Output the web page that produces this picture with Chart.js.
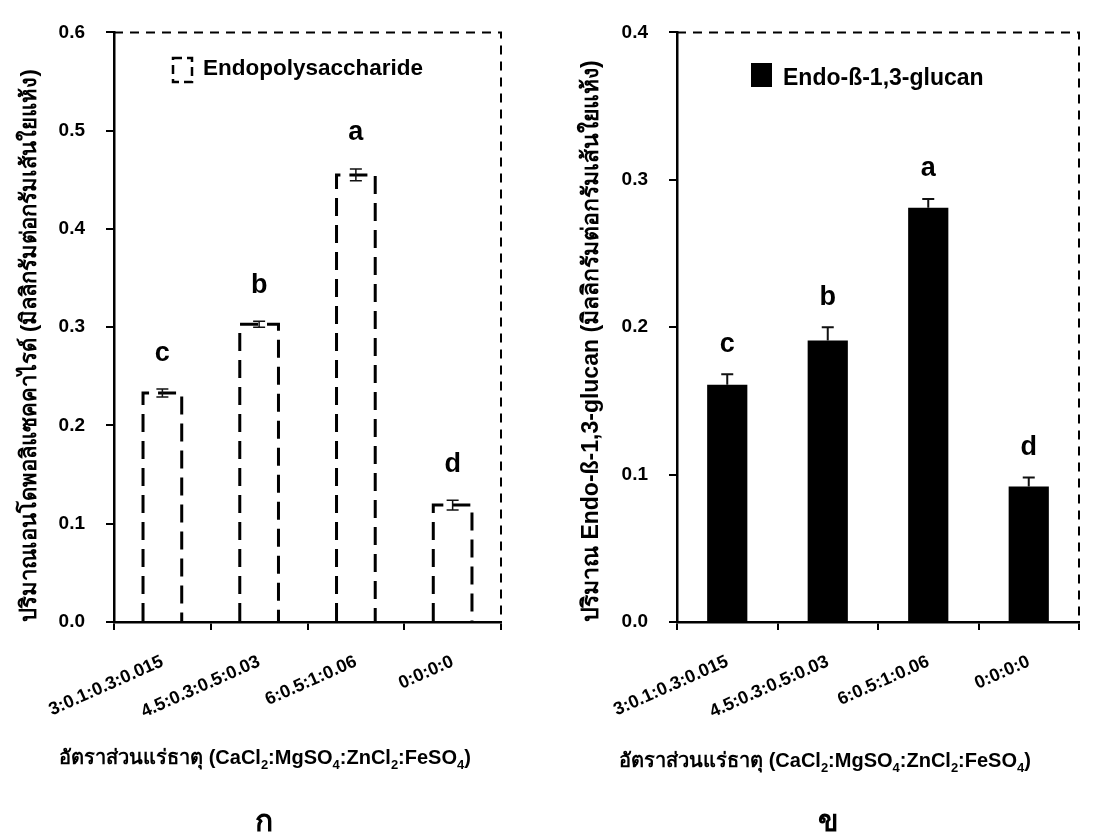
<!DOCTYPE HTML>
<html>
<head>
   <title>Endopolysaccharide / Endo-glucan</title>
   <meta charset="utf-8">
   <script src="https://cdn.jsdelivr.net/npm/chart.js"></script>
   <style>
     body { margin: 0; background: #fff; }
     .box { position: absolute; top: 0; height: 837px; }
   </style>
</head>
<body>
  <div class="box" style="left:0; width:548px;"><canvas id="chartA"></canvas></div>
  <div class="box" style="left:548px; width:549px;"><canvas id="chartB"></canvas></div>

<script type="text/javascript">
  // ratios CaCl2:MgSO4:ZnCl2:FeSO4
  var categories = ["3:0.1:0.3:0.015", "4.5:0.3:0.5:0.03", "6:0.5:1:0.06", "0:0:0:0"];

  var polyValues  = [0.233, 0.303, 0.455, 0.119];
  var polyErrors  = [0.004, 0.003, 0.006, 0.005];
  var polyLetters = ["c", "b", "a", "d"];

  var glucanValues  = [0.161, 0.191, 0.281, 0.092];
  var glucanErrors  = [0.007, 0.009, 0.006, 0.006];
  var glucanLetters = ["c", "b", "a", "d"];

  var FONT = '"Liberation Sans", Arial, "Noto Sans", sans-serif';
  Chart.defaults.font.family = FONT;
  Chart.defaults.font.weight = 'bold';
  Chart.defaults.color = '#000';

  // dashed top and right border of the plot area
  var frameDash = {
    id: 'frameDash',
    afterDraw: function (chart) {
      var a = chart.chartArea, ctx = chart.ctx;
      ctx.save();
      ctx.strokeStyle = '#000';
      ctx.lineWidth = 2;
      ctx.setLineDash([9, 7]);
      ctx.beginPath();
      ctx.moveTo(a.left, a.top);
      ctx.lineTo(a.right, a.top);
      ctx.lineTo(a.right, a.bottom);
      ctx.stroke();
      ctx.restore();
    }
  };

  // outlines, error bars and significance letters
  var barDecor = {
    id: 'barDecor',
    afterDatasetsDraw: function (chart, args, opts) {
      var ctx = chart.ctx;
      var yScale = chart.scales.y;
      var meta = chart.getDatasetMeta(0);
      var data = chart.data.datasets[0].data;
      ctx.save();
      meta.data.forEach(function (bar, i) {
        var half = bar.width / 2;
        if (opts.dashed) {
          ctx.strokeStyle = '#000';
          ctx.lineWidth = 3;
          ctx.setLineDash([18, 9]);
          ctx.beginPath();
          ctx.moveTo(bar.x - half, bar.base);
          ctx.lineTo(bar.x - half, bar.y);
          ctx.lineTo(bar.x + half, bar.y);
          ctx.lineTo(bar.x + half, bar.base);
          ctx.stroke();
          ctx.setLineDash([]);
        }
        var yHi = yScale.getPixelForValue(data[i] + opts.errors[i]);
        var yLo = opts.twoSided ? yScale.getPixelForValue(data[i] - opts.errors[i]) : bar.y;
        ctx.strokeStyle = '#111';
        ctx.lineWidth = opts.errWidth;
        ctx.beginPath();
        ctx.moveTo(bar.x, yLo);
        ctx.lineTo(bar.x, yHi);
        ctx.moveTo(bar.x - 6, yHi);
        ctx.lineTo(bar.x + 6, yHi);
        if (opts.twoSided) {
          ctx.moveTo(bar.x - 6, yLo);
          ctx.lineTo(bar.x + 6, yLo);
        }
        ctx.stroke();
        ctx.fillStyle = '#000';
        ctx.font = 'bold 27px ' + FONT;
        ctx.textAlign = 'center';
        ctx.textBaseline = 'middle';
        ctx.fillText(opts.letters[i], bar.x, yHi - opts.letterGap);
      });
      ctx.restore();
    }
  };

  // legend, x caption with subscripts and panel label
  var captions = {
    id: 'captions',
    afterDraw: function (chart, args, opts) {
      var ctx = chart.ctx;
      ctx.save();
      ctx.fillStyle = '#000';
      ctx.strokeStyle = '#000';
      // legend swatch
      var s = opts.swatch;
      if (opts.dashed) {
        ctx.lineWidth = 2.5;
        ctx.setLineDash([9, 5]);
        ctx.strokeRect(s[0], s[1], s[2], s[3]);
        ctx.setLineDash([]);
      } else {
        ctx.fillRect(s[0], s[1], s[2], s[3]);
      }
      ctx.font = 'bold ' + opts.legendSize + 'px ' + FONT;
      ctx.textAlign = 'left';
      ctx.textBaseline = 'middle';
      ctx.fillText(opts.legendText, s[0] + s[2] + 11, s[1] + s[3] / 2 + opts.legendShift);

      // x caption
      var parts = [["อัตราส่วนแร่ธาตุ (CaCl", 0], ["2", 1], [":MgSO", 0], ["4", 1],
                   [":ZnCl", 0], ["2", 1], [":FeSO", 0], ["4", 1], [")", 0]];
      var big = 'bold 20px ' + FONT, small = 'bold 13px ' + FONT;
      var total = 0;
      parts.forEach(function (p) {
        ctx.font = p[1] ? small : big;
        total += ctx.measureText(p[0]).width;
      });
      var x = opts.captionX - total / 2;
      ctx.textBaseline = 'alphabetic';
      parts.forEach(function (p) {
        ctx.font = p[1] ? small : big;
        ctx.fillText(p[0], x, opts.captionY + (p[1] ? 5 : 0));
        x += ctx.measureText(p[0]).width;
      });

      // panel label
      ctx.font = 'bold 30px ' + FONT;
      ctx.textAlign = 'center';
      ctx.textBaseline = 'middle';
      ctx.fillText(opts.panel, opts.panelX, opts.panelY);
      ctx.restore();
    }
  };

  function makeChart(id, values, color, yMax, yTitle, titleSize, padRight, axisWidth, titlePad, deco, caps) {
    return new Chart(document.getElementById(id), {
      type: 'bar',
      data: {
        labels: categories,
        datasets: [{
          data: values,
          backgroundColor: color,
          borderWidth: 0,
          barPercentage: 0.4,
          categoryPercentage: 1.0
        }]
      },
      plugins: [frameDash, barDecor, captions],
      options: {
        responsive: true,
        maintainAspectRatio: false,
        animation: false,
        layout: { padding: { left: 0, top: 23, right: padRight, bottom: 0 } },
        scales: {
          x: {
            offset: true,
            grid: { offset: true, drawOnChartArea: false, color: '#000', lineWidth: 2, tickLength: 8 },
            border: { color: '#000', width: 2.5 },
            ticks: { minRotation: 24, maxRotation: 24, autoSkip: false, padding: 21, font: { size: 18, weight: 'bold' } },
            afterFit: function (scale) { scale.height = 837 - 622; }
          },
          y: {
            min: 0,
            max: yMax,
            grid: { drawOnChartArea: false, color: '#000', lineWidth: 2, tickLength: 8 },
            border: { color: '#000', width: 2.5 },
            ticks: {
              stepSize: 0.1,
              padding: 21,
              font: { size: 19, weight: 'bold' },
              callback: function (v) { return v.toFixed(1); }
            },
            title: {
              display: true,
              text: yTitle,
              align: 'start',
              font: { size: titleSize, weight: 'bold' },
              padding: { top: titlePad, bottom: 0 }
            },
            afterFit: function (scale) { scale.width = axisWidth; }
          }
        },
        plugins: {
          legend: { display: false },
          tooltip: { enabled: false },
          barDecor: deco,
          captions: caps
        }
      }
    });
  }

  makeChart('chartA', polyValues, '#ffffff', 0.6,
    'ปริมาณเอนโดพอลิแซคคาไรด์ (มิลลิกรัมต่อกรัมเส้นใยแห้ง)', 22, 47, 114, 17,
    { errors: polyErrors, letters: polyLetters, twoSided: true, dashed: true, errWidth: 1.5, letterGap: 36 },
    { swatch: [173, 58, 19, 24], dashed: true, legendText: 'Endopolysaccharide', legendSize: 22.5, legendShift: -1,
      captionX: 265, captionY: 764, panel: 'ก', panelX: 264, panelY: 823 });

  makeChart('chartB', glucanValues, '#000000', 0.4,
    'ปริมาณ Endo-ß-1,3-glucan (มิลลิกรัมต่อกรัมเส้นใยแห้ง)', 23, 18, 129, 30,
    { errors: glucanErrors, letters: glucanLetters, twoSided: false, dashed: false, errWidth: 2, letterGap: 30 },
    { swatch: [203, 63, 21, 24], dashed: false, legendText: 'Endo-ß-1,3-glucan', legendSize: 23, legendShift: 4,
      captionX: 277, captionY: 767, panel: 'ข', panelX: 280, panelY: 823 });
</script>
</body>
</html>
